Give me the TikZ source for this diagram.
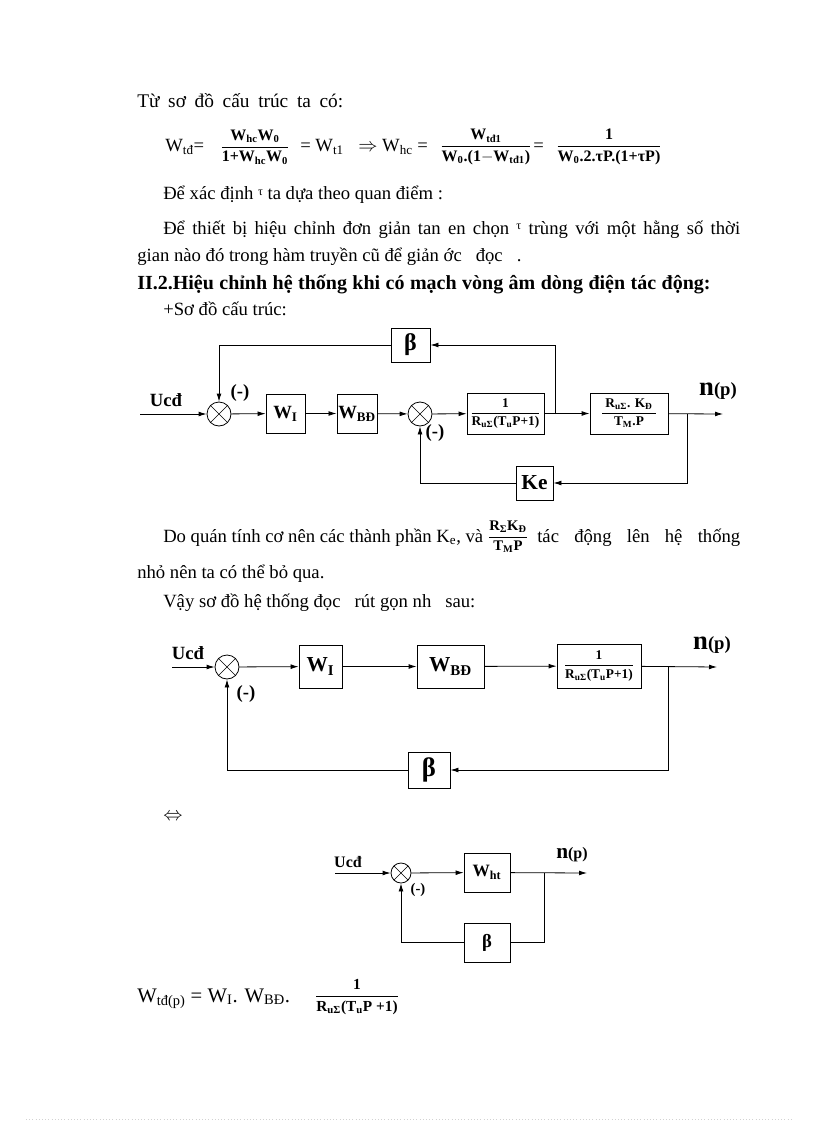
\documentclass[tikz,border=0pt]{standalone}
\usepackage{fontspec}
\setmainfont{Liberation Serif}
\usetikzlibrary{arrows.meta}
\newcommand{\tauup}{\raisebox{0.55ex}{\fontsize{9}{9}\selectfont τ}}
\begin{document}
\begin{tikzpicture}[x=0.75pt,y=-0.75pt,
  txt/.style={anchor=base west, inner sep=0pt, font=\fontsize{14}{16}\selectfont},
  eqb/.style={inner sep=0pt, font=\bfseries\fontsize{12}{14}\selectfont},
  blk/.style={draw, line width=0.6pt, inner sep=1pt, font=\bfseries\fontsize{14}{16}\selectfont},
  sumj/.style={draw, circle, line width=0.6pt, minimum size=18pt, inner sep=0pt,
    path picture={\draw[line width=0.5pt] (path picture bounding box.north east) -- (path picture bounding box.south west)
      (path picture bounding box.north west) -- (path picture bounding box.south east);}},
  lnk/.style={line width=0.6pt},
  arr/.style={line width=0.6pt, -{Latex[length=6pt,width=3.6pt]}},
  lbl/.style={font=\bfseries\fontsize{14}{16}\selectfont, inner sep=0pt},
  frb/.style={font=\bfseries\fontsize{10}{12}\selectfont},
]
\fill[white] (0,0) rectangle (816,1123);
\useasboundingbox (0,0) rectangle (816,1123);

% ---------- top text ----------
\node[txt, font=\fontsize{14.5}{16}\selectfont] (t1) at (137,108) {\makebox[154.5pt][s]{Từ sơ đồ cấu trúc ta có:}};
\node[txt] (e1) at (165,152) {W\textsubscript{tđ}=};
\node[eqb] (e2) at (255,147) {$\displaystyle\frac{\hbox{W\textsubscript{hc}W\textsubscript{0}}}{\hbox{1+W\textsubscript{hc}W\textsubscript{0}}}$};
\node[txt] (e3) at (300,152) {= W\textsubscript{t1}};
\node[txt] (e4) at (358,152) {$\Rightarrow$ W\textsubscript{hc} =};
\node[eqb] (e5) at (486,147) {$\displaystyle\frac{\hbox{W\textsubscript{tđ1}}}{\hbox{W\textsubscript{0}.(1$-$W\textsubscript{tđ1})}}$};
\node[txt] (e6) at (533,152) {=};
\node[eqb] (e7) at (609,147) {$\displaystyle\frac{\hbox{1}}{\hbox{W\textsubscript{0}.2.τP.(1+τP)}}$};

\node[txt] (t2) at (163,200) {Để xác định \tauup{} ta dựa theo quan điểm :};
\node[txt] (t3) at (163,234) {\makebox[432.75pt][s]{Để thiết bị hiệu chỉnh đơn giản tan en chọn \tauup{} trùng với một hằng số thời}};
\node[txt] (t4) at (137,262) {gian nào đó trong hàm truyền cũ để giản ớc \ \ đọc \ \ .};
\node[txt, font=\bfseries\fontsize{15}{17}\selectfont] (t5) at (137,289) {\makebox[430pt][s]{II.2.Hiệu chỉnh hệ thống khi có mạch vòng âm dòng điện tác động:}};
\node[txt] (t6) at (163,315) {+Sơ đồ cấu trúc:};

% ---------- diagram 1 ----------
\node[sumj] (s1) at (219,414) {};
\node[blk, minimum width=29.25pt, minimum height=29.25pt] (wi) at (285.5,413.5) {W\textsubscript{I}};
\node[blk, minimum width=30pt, minimum height=29.25pt] (wbd) at (357,413.5) {W\textsubscript{BĐ}};
\node[sumj] (s2) at (420,414) {};
\node[blk, frb, minimum width=57.75pt, minimum height=30.75pt] (g1) at (505.5,413.5) {$\displaystyle\frac{\hbox{1}}{\hbox{R\textsubscript{uΣ}(T\textsubscript{u}P+1)}}$};
\node[blk, frb, minimum width=58.5pt, minimum height=30.75pt] (g2) at (629,413.5) {$\displaystyle\frac{\hbox{\ R\textsubscript{uΣ}. K\textsubscript{Đ}\ }}{\hbox{T\textsubscript{M}.P}}$};
\node[blk, minimum width=29.25pt, minimum height=25.5pt, font=\bfseries\fontsize{18}{18}\selectfont] (beta) at (410.5,345) {β};
\node[blk, minimum width=27.75pt, minimum height=25.5pt, font=\bfseries\fontsize{16}{16}\selectfont] (ke) at (534.5,483) {Ke};
\coordinate (in1) at (140,414);
\coordinate (br1) at (555,414);
\coordinate (br2) at (687,414);
\coordinate (out1) at (723,414);
\draw[arr] (in1) -- (s1);
\draw[arr] (s1) -- (wi);
\draw[arr] (wi) -- (wbd);
\draw[arr] (wbd) -- (s2);
\draw[arr] (s2) -- (g1);
\draw[arr] (g1) -- (g2);
\draw[arr] (br1) |- (beta);
\draw[arr] (beta) -| (s1);
\draw[arr] (g2) -- (out1);
\draw[arr] (br2) |- (ke);
\draw[arr] (ke) -| (s2);
\node[lbl] (u1) at (166,400) {Ucđ};
\node[lbl] (m1) at (240,393) {(-)};
\node[lbl] (m2) at (435,433) {(-)};
\node[lbl] (n1) at (718,391) {{\fontsize{20}{20}\selectfont n}(p)};

% ---------- middle text ----------
\node[txt] (t7) at (163,542) {\makebox[240pt][s]{Do quán tính cơ nên các thành phần K\textsubscript{e}, và}};
\node[eqb, font=\bfseries\fontsize{11}{13}\selectfont] (t8) at (508,537) {$\displaystyle\frac{\hbox{R\textsubscript{Σ}K\textsubscript{Đ}}}{\hbox{T\textsubscript{M}P}}$};
\node[txt] (t9) at (537,542) {\makebox[152.25pt][s]{tác động lên hệ thống}};
\node[txt] (t10) at (137,578) {nhỏ nên ta có thể bỏ qua.};
\node[txt] (t11) at (163,607) {Vậy sơ đồ hệ thống đọc \ \ rút gọn nh \ \ sau:};

% ---------- diagram 2 ----------
\node[sumj] (s3) at (227,667) {};
\node[blk, minimum width=32.25pt, minimum height=32.25pt, font=\bfseries\fontsize{16}{16}\selectfont] (wi2) at (320.5,666.5) {W\textsubscript{I}};
\node[blk, minimum width=50.25pt, minimum height=32.25pt, font=\bfseries\fontsize{16}{16}\selectfont] (wbd2) at (450.5,666.5) {W\textsubscript{BĐ}};
\node[blk, frb, minimum width=63pt, minimum height=33pt] (g3) at (599,666) {$\displaystyle\frac{\hbox{1}}{\hbox{R\textsubscript{uΣ}(T\textsubscript{u}P+1)}}$};
\node[blk, minimum width=31.5pt, minimum height=27pt, font=\bfseries\fontsize{20}{20}\selectfont] (beta2) at (429,770) {β};
\coordinate (in2) at (172,667);
\coordinate (br3) at (668,667);
\coordinate (out2) at (717,667);
\draw[arr] (in2) -- (s3);
\draw[arr] (s3) -- (wi2);
\draw[arr] (wi2) -- (wbd2);
\draw[arr] (wbd2) -- (g3);
\draw[arr] (g3) -- (out2);
\draw[arr] (br3) |- (beta2);
\draw[arr] (beta2) -| (s3);
\node[lbl] (u2) at (188,653) {Ucđ};
\node[lbl] (m3) at (246,694) {(-)};
\node[lbl] (n2) at (712,645) {{\fontsize{20}{20}\selectfont n}(p)};

\node[txt] (eq) at (163,820) {$\Leftrightarrow$};

% ---------- diagram 3 ----------
\node[sumj, minimum size=15pt] (s4) at (401,873) {};
\node[blk, minimum width=34.5pt, minimum height=29.25pt, font=\bfseries\fontsize{13}{13}\selectfont] (wht) at (487,872.5) {W\textsubscript{ht}};
\node[blk, minimum width=34.5pt, minimum height=29.25pt, font=\bfseries\fontsize{14}{14}\selectfont] (beta3) at (487,942.5) {β};
\coordinate (in3) at (335,873);
\coordinate (br4) at (544,873);
\coordinate (out3) at (587,873);
\draw[arr] (in3) -- (s4);
\draw[arr] (s4) -- (wht);
\draw[arr] (wht) -- (out3);
\draw[lnk] (br4) |- (beta3);
\draw[arr] (beta3) -| (s4);
\node[lbl, font=\bfseries\fontsize{12}{14}\selectfont] (u3) at (348,862) {Ucđ};
\node[lbl, font=\bfseries\fontsize{11}{13}\selectfont] (m4) at (418,890) {(-)};
\node[lbl, font=\bfseries\fontsize{12}{14}\selectfont] (n3) at (572,855) {{\fontsize{16}{16}\selectfont n}(p)};

% ---------- bottom formula ----------
\node[txt, font=\fontsize{15.5}{17}\selectfont] (f1) at (137,1002) {W\textsubscript{tđ(p)} = W\textsubscript{I}. W\textsubscript{BĐ}.};
\node[eqb, font=\bfseries\fontsize{11.5}{13}\selectfont] (f2) at (357,997) {$\displaystyle\frac{\hbox{1}}{\hbox{R\textsubscript{uΣ}(T\textsubscript{u}P +1)}}$};

\draw[gray!35, dotted, line width=0.4pt] (26,1119) -- (792,1119);
\end{tikzpicture}
\end{document}
